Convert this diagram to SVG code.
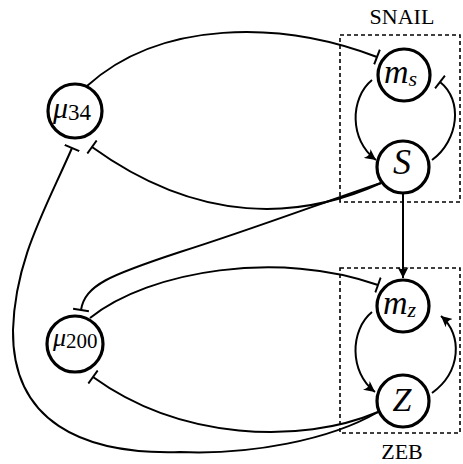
<svg xmlns="http://www.w3.org/2000/svg" width="463" height="464" viewBox="0 0 463 464">
<style>
.node{fill:#fff;stroke:#000;stroke-width:3.2}
.edge{fill:none;stroke:#000;stroke-width:2}
.box{fill:none;stroke:#000;stroke-width:1.6;stroke-dasharray:4 3}
.lbl{font-family:"Liberation Serif",serif;font-size:22px;fill:#000}
.math{font-family:"Liberation Serif",serif;font-style:italic;fill:#000}
.num{font-family:"Liberation Serif",serif;font-style:normal;fill:#000}
</style>
<defs>
<marker id="arr" markerUnits="userSpaceOnUse" viewBox="0 0 10 10" refX="10" refY="5" markerWidth="11" markerHeight="11" orient="auto">
<path d="M0,0 L10,5 L0,10 Q4,5 0,0 Z" fill="#000"/>
</marker>
<marker id="bar" markerUnits="userSpaceOnUse" viewBox="0 0 4 16" refX="2" refY="8" markerWidth="4" markerHeight="16" orient="auto">
<path d="M2,0 L2,16" stroke="#000" stroke-width="2"/>
</marker>
</defs>
<g id="boxes">
<rect class="box" x="340" y="35" width="120" height="167"/>
<rect class="box" x="340" y="268" width="120" height="165"/>
<text class="lbl" x="402" y="24" text-anchor="middle">SNAIL</text>
<text class="lbl" x="402" y="459" text-anchor="middle">ZEB</text>
</g>
<g id="connectors">
<path class="edge" d="M87,86 C160,20 280,20 377,57" marker-end="url(#bar)"/>
<path class="edge" d="M381,183 C300,220 200,225 92,147" marker-end="url(#bar)"/>
<path class="edge" d="M381,183 C330,200 250,230 180,252 C110,275 85,285 81,310" marker-end="url(#bar)"/>
<path class="edge" d="M90,318 C150,270 280,250 378,285" marker-end="url(#bar)"/>
<path class="edge" d="M378,412 C300,445 180,440 93,377" marker-end="url(#bar)"/>
<path class="edge" d="M378,412 C330,440 250,455 180,452 C80,455 12,420 13,330 C15,260 45,210 72,148" marker-end="url(#bar)"/>
<path class="edge" d="M372,80 C350,98 349,140 376,160" marker-end="url(#arr)"/>
<path class="edge" d="M432,160 C459,140 463,100 440,82" marker-end="url(#bar)"/>
<path class="edge" d="M372,312 C350,330 349,372 375,392" marker-end="url(#arr)"/>
<path class="edge" d="M432,393 C461,372 463,335 441,316" marker-end="url(#arr)"/>
<path class="edge" d="M403,194 L403,278" marker-end="url(#arr)"/>
</g>
<g id="node-ms">
<circle class="node" cx="404" cy="75" r="26"/>
<text x="384" y="83"><tspan class="math" font-size="34">m</tspan><tspan class="math" font-size="22" dy="3">s</tspan></text>
</g>
<g id="node-S">
<circle class="node" cx="403" cy="167" r="26"/>
<text class="math" x="402" y="174" font-size="36" text-anchor="middle">S</text>
</g>
<g id="node-mz">
<circle class="node" cx="403" cy="306" r="26"/>
<text x="383" y="314"><tspan class="math" font-size="34">m</tspan><tspan class="math" font-size="22" dy="3">z</tspan></text>
</g>
<g id="node-Z">
<circle class="node" cx="403" cy="401" r="26"/>
<text class="math" x="402" y="411" font-size="34" text-anchor="middle">Z</text>
</g>
<g id="node-mu34">
<circle class="node" cx="75" cy="111" r="27"/>
<text x="53" y="118"><tspan class="math" font-size="30">μ</tspan><tspan class="num" font-size="23" dy="2">34</tspan></text>
</g>
<g id="node-mu200">
<circle class="node" cx="75" cy="344" r="28"/>
<text x="53" y="346"><tspan class="math" font-size="26">μ</tspan><tspan class="num" font-size="21" dy="2">200</tspan></text>
</g>
</svg>
